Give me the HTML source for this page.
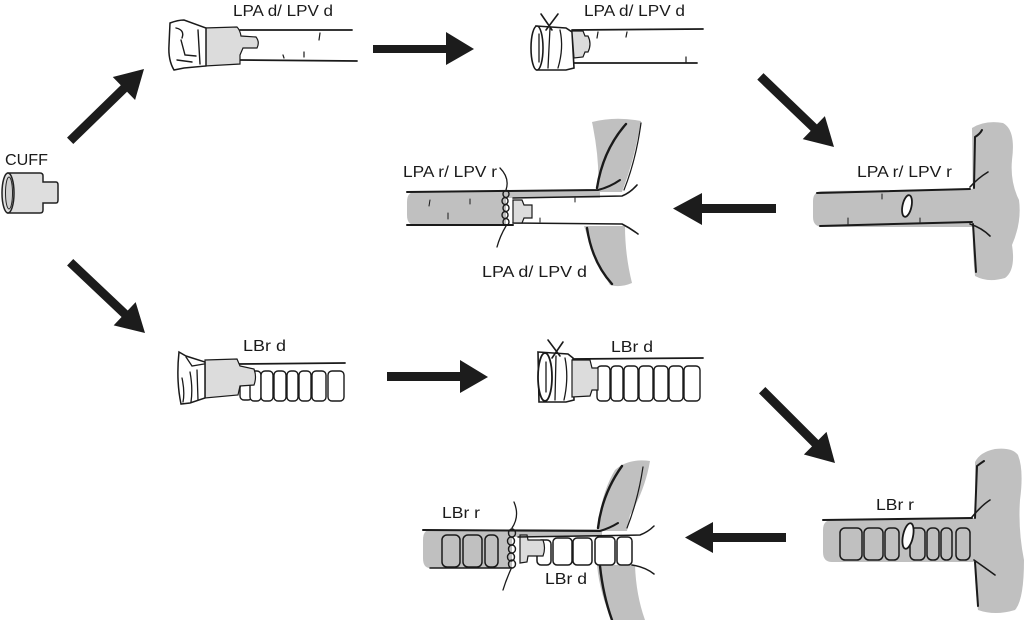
<!DOCTYPE html>
<html>
<head>
<meta charset="utf-8">
<style>
html,body{margin:0;padding:0;background:#fff;}
svg{display:block;}
text{font-family:"Liberation Sans",Arial,sans-serif;font-size:16px;fill:#1a1a1a;}
</style>
</head>
<body>
<svg width="1024" height="620" viewBox="0 0 1024 620" xmlns="http://www.w3.org/2000/svg">
<rect width="1024" height="620" fill="#fff"/>

<!-- ARROWS -->
<g fill="#1c1c1c">
  <polygon transform="translate(144,69) rotate(-44.2)" points="-103,-4.5 -28,-4.5 -28,-16 0,0 -28,16 -28,4.5 -103,4.5"/>
  <polygon points="373,45 446,45 446,32 474,49 446,65 446,53 373,53"/>
  <polygon transform="translate(834,147) rotate(43.8)" points="-102,-4.5 -28,-4.5 -28,-16 0,0 -28,16 -28,4.5 -102,4.5"/>
  <polygon points="776,204 702,204 702,193 673,208.5 702,225 702,213 776,213"/>
  <polygon transform="translate(145,333) rotate(43.4)" points="-103,-4.5 -28,-4.5 -28,-16 0,0 -28,16 -28,4.5 -103,4.5"/>
  <polygon points="387,372 460,372 460,360 488,377 460,393 460,381 387,381"/>
  <polygon transform="translate(835,463) rotate(45)" points="-103,-4.5 -28,-4.5 -28,-16 0,0 -28,16 -28,4.5 -103,4.5"/>
  <polygon points="786,533 713,533 713,522 685,537.5 713,553 713,542 786,542"/>
</g>

<!-- LABELS -->
<text x="5" y="165" textLength="43" lengthAdjust="spacingAndGlyphs">CUFF</text>
<text x="233" y="16" textLength="100" lengthAdjust="spacingAndGlyphs">LPA d/ LPV d</text>
<text x="584" y="16" textLength="101" lengthAdjust="spacingAndGlyphs">LPA d/ LPV d</text>
<text x="403" y="177" textLength="94" lengthAdjust="spacingAndGlyphs">LPA r/ LPV r</text>
<text x="482" y="277" textLength="105" lengthAdjust="spacingAndGlyphs">LPA d/ LPV d</text>
<text x="857" y="177" textLength="95" lengthAdjust="spacingAndGlyphs">LPA r/ LPV r</text>
<text x="243" y="351" textLength="43" lengthAdjust="spacingAndGlyphs">LBr d</text>
<text x="611" y="352" textLength="42" lengthAdjust="spacingAndGlyphs">LBr d</text>
<text x="876" y="510" textLength="38" lengthAdjust="spacingAndGlyphs">LBr r</text>
<text x="442" y="518" textLength="38" lengthAdjust="spacingAndGlyphs">LBr r</text>
<text x="545" y="584" textLength="42" lengthAdjust="spacingAndGlyphs">LBr d</text>

<!-- CUFF -->
<g stroke="#222" stroke-width="1.5" fill="#dedede">
  <path d="M8,173 L40,173 Q43,173 43,176 L43,182 L56,182 Q58,182 58,185 L58,200 Q58,203 56,203 L43,203 L43,210 Q43,213 40,213 L8,213 Z"/>
  <ellipse cx="8" cy="193" rx="6" ry="20"/>
  <ellipse cx="9" cy="193" rx="3.5" ry="16" fill="#cfcfcf" stroke-width="1"/>
</g>

<!-- VESSEL A : LPA d top-left -->
<g stroke="#1a1a1a" stroke-linecap="round" fill="none">
  <path d="M240,30 L352,30" stroke-width="1.8"/>
  <path d="M240,60 L357,61" stroke-width="1.8"/>
  <path d="M320,33 L319,40 M283,55 L284,58 M304,52 L304,57" stroke-width="1.2"/>
  <path d="M204,28 L237,27 Q240,30 241,36 L256,37 Q260,42 257,48 L243,48 L240,55 L240,64 L205,66 Z" fill="#dcdcdc" stroke-width="1.2"/>
  <path d="M170,23 Q178,20 184,20 L206,28 L206,66 L184,68 L174,70 Q168,60 169,45 Z" fill="#fff" stroke-width="1.5"/>
  <path d="M176,28 Q185,30 182,38 M181,40 L185,55 L196,56 M177,60 L192,62 M198,30 L200,64" stroke-width="1.4"/>
</g>

<!-- VESSEL B : LPA d with knot -->
<g stroke="#1a1a1a" stroke-linecap="round" fill="none">
  <path d="M572,30 L703,29" stroke-width="1.8"/>
  <path d="M574,63 L697,63" stroke-width="1.8"/>
  <path d="M598,32 L597,38 M627,32 L626,37 M686,57 L686,62" stroke-width="1.2"/>
  <path d="M536,26 L566,28 L572,32 L574,68 L566,70 L537,70 Z" fill="#fff" stroke-width="1.6"/>
  <ellipse cx="537" cy="48" rx="6" ry="22" fill="#fff" stroke-width="1.6"/>
  <path d="M539,34 L539,62 M550,28 L548,68 M560,30 Q564,48 558,68" stroke-width="1.3"/>
  <path d="M572,31 L583,31 L585,36 L588,36 Q592,44 588,52 L585,52 L583,57 L574,58 Z" fill="#dcdcdc" stroke-width="1.2"/>
  <path d="M541,14 L552,30 M558,14 L546,30" stroke-width="1.6"/>
</g>

<!-- VESSEL C : LPA anastomosis -->
<g stroke="#1a1a1a" stroke-linecap="round" fill="none">
  <path d="M592,122 Q615,116 641,121 Q636,150 628,175 L622,192 L598,192 Q600,160 592,122 Z" fill="#c0c0c0" stroke="none"/>
  <path d="M584,226 L625,226 Q625,255 632,283 Q620,288 610,285 Q596,262 584,226 Z" fill="#c0c0c0" stroke="none"/>
  <path d="M415,192 L506,192 L506,225 L415,225 Q407,225 407,215 L407,202 Q407,192 415,192 Z" fill="#c0c0c0" stroke="none"/>
  <rect x="506" y="191" width="94" height="7" fill="#c0c0c0" stroke="none"/>
  <path d="M597,188 Q603,150 626,124" stroke-width="2.4"/>
  <path d="M641,123 Q636,160 624,190" stroke-width="1.2"/>
  <path d="M587,228 Q592,262 612,284" stroke-width="2.4"/>
  <path d="M407,192 L598,190 Q610,187 620,180" stroke-width="2"/>
  <path d="M407,225 L513,225" stroke-width="2"/>
  <path d="M513,198 L622,196 Q630,193 637,185" stroke-width="1.6"/>
  <path d="M513,223 L622,224 Q630,228 638,234" stroke-width="1.6"/>
  <path d="M430,200 L429,206 M448,213 L448,219 M470,199 L470,204 M540,218 L540,222 M575,198 L575,202" stroke-width="1"/>
  <path d="M513,200 L522,200 L524,205 L532,205 L532,218 L524,218 L522,223 L513,223 Z" fill="#dcdcdc" stroke-width="1.2"/>
  <g stroke-width="1.4">
    <ellipse cx="506" cy="194" rx="3" ry="3.5"/>
    <ellipse cx="505" cy="201" rx="3" ry="3.5"/>
    <ellipse cx="506" cy="208" rx="3" ry="3.5"/>
    <ellipse cx="505" cy="215" rx="3" ry="3.5"/>
    <ellipse cx="506" cy="222" rx="3" ry="3.5"/>
  </g>
  <path d="M506,190 Q510,178 500,168" stroke-width="1.3"/>
  <path d="M506,226 Q500,236 497,247" stroke-width="1.3"/>
</g>

<!-- VESSEL D : LPA r recipient -->
<g stroke="#1a1a1a" stroke-linecap="round" fill="none">
  <path d="M972,128 Q985,120 1003,123 Q1016,130 1012,160 Q1010,182 1019,200 Q1022,222 1012,245 Q1016,270 1005,278 Q988,283 975,276 Q972,250 973,220 Z" fill="#c0c0c0" stroke="none"/>
  <path d="M823,191 L975,189 L975,227 L823,227 Q813,227 813,217 L813,201 Q813,191 823,191 Z" fill="#c0c0c0" stroke="none"/>
  <path d="M817,193 L970,189" stroke-width="2"/>
  <path d="M820,226 L972,222" stroke-width="2"/>
  <path d="M975,137 L974,188 M975,137 Q980,134 982,130" stroke-width="2"/>
  <path d="M973,224 L976,272" stroke-width="2"/>
  <path d="M970,187 Q978,178 988,172 M970,224 Q982,228 990,236" stroke-width="1.6"/>
  <path d="M882,194 L882,199 M848,218 L848,224 M920,218 L920,222" stroke-width="1"/>
  <ellipse cx="907" cy="206" rx="4.5" ry="11" transform="rotate(12 907 206)" fill="#fff" stroke-width="1.8"/>
</g>

<!-- VESSEL E : LBr d left -->
<g stroke="#1a1a1a" stroke-linecap="round" fill="none">
  <path d="M238,364 L345,363" stroke-width="1.8"/>
  <g fill="#fff" stroke-width="1.4">
    <rect x="240" y="384" width="12" height="16" rx="4"/>
    <rect x="250" y="371" width="11" height="30" rx="4"/>
    <rect x="261" y="371" width="12" height="30" rx="4"/>
    <rect x="274" y="371" width="12" height="30" rx="4"/>
    <rect x="287" y="371" width="11" height="30" rx="4"/>
    <rect x="299" y="371" width="12" height="30" rx="4"/>
    <rect x="312" y="371" width="14" height="30" rx="4"/>
    <rect x="328" y="371" width="16" height="30" rx="4"/>
  </g>
  <path d="M205,360 L237,359 L240,366 L254,369 Q257,377 254,385 L240,386 L238,395 L205,398 Z" fill="#dcdcdc" stroke-width="1.2"/>
  <path d="M179,352 L186,356 L205,362 L205,398 L190,403 L181,404 Q176,380 179,352 Z" fill="#fff" stroke-width="1.5"/>
  <path d="M186,357 L192,366 L204,364 M182,378 Q185,392 183,402 M190,372 Q193,388 191,402 M197,370 L198,400" stroke-width="1.3"/>
</g>

<!-- VESSEL F : LBr d with knot -->
<g stroke="#1a1a1a" stroke-linecap="round" fill="none">
  <path d="M572,359 L703,358" stroke-width="1.8"/>
  <g fill="#fff" stroke-width="1.4">
    <rect x="597" y="366" width="13" height="35" rx="4"/>
    <rect x="611" y="366" width="12" height="35" rx="4"/>
    <rect x="624" y="366" width="14" height="35" rx="4"/>
    <rect x="639" y="366" width="14" height="35" rx="4"/>
    <rect x="654" y="366" width="14" height="35" rx="4"/>
    <rect x="669" y="366" width="14" height="35" rx="4"/>
    <rect x="684" y="366" width="16" height="35" rx="4"/>
  </g>
  <path d="M538,352 L568,354 L573,358 L574,400 L566,402 L539,402 Z" fill="#fff" stroke-width="1.6"/>
  <ellipse cx="545" cy="377" rx="7" ry="24" fill="#fff" stroke-width="1.8"/>
  <path d="M546,362 L546,392 M556,356 L555,400 M565,358 Q569,378 564,400" stroke-width="1.3"/>
  <path d="M572,360 L590,360 L592,368 L598,368 L598,390 L592,390 L590,396 L572,397 Z" fill="#dcdcdc" stroke-width="1.2"/>
  <path d="M548,340 L560,356 M563,342 L552,358" stroke-width="1.6"/>
</g>

<!-- VESSEL G : LBr r recipient -->
<g stroke="#1a1a1a" stroke-linecap="round" fill="none">
  <path d="M975,462 Q980,452 995,449 Q1012,447 1018,455 Q1024,470 1020,500 Q1018,530 1024,560 Q1024,600 1015,610 Q995,616 978,610 Q974,580 975,560 Z" fill="#c0c0c0" stroke="none"/>
  <path d="M832,520 L976,518 L976,562 L832,562 Q823,562 823,552 L823,530 Q823,520 832,520 Z" fill="#c0c0c0" stroke="none"/>
  <g fill="#c0c0c0" stroke-width="1.5">
    <rect x="840" y="528" width="22" height="32" rx="5"/>
    <rect x="864" y="528" width="19" height="32" rx="5"/>
    <rect x="885" y="528" width="14" height="32" rx="5"/>
    <rect x="910" y="528" width="15" height="32" rx="5"/>
    <rect x="927" y="528" width="12" height="32" rx="5"/>
    <rect x="941" y="528" width="11" height="32" rx="5"/>
    <rect x="956" y="528" width="14" height="32" rx="5"/>
  </g>
  <path d="M823,520 L972,518" stroke-width="2"/>
  <path d="M977,466 L975,518 M977,466 Q981,463 984,461" stroke-width="2"/>
  <path d="M975,562 L978,606" stroke-width="2"/>
  <path d="M972,517 Q982,505 990,500 M974,560 Q984,567 995,575" stroke-width="1.6"/>
  <ellipse cx="908" cy="536" rx="5" ry="13" transform="rotate(12 908 536)" fill="#fff" stroke-width="1.8"/>
</g>

<!-- VESSEL H : LBr anastomosis -->
<g stroke="#1a1a1a" stroke-linecap="round" fill="none">
  <path d="M598,531 Q600,495 615,470 Q628,458 650,461 Q645,490 630,515 L627,531 Z" fill="#c0c0c0" stroke="none"/>
  <path d="M597,565 L635,565 Q636,595 645,620 L612,620 Q600,595 597,565 Z" fill="#c0c0c0" stroke="none"/>
  <path d="M430,530 L512,530 L512,568 L430,568 Q423,568 423,558 L423,540 Q423,530 430,530 Z" fill="#c0c0c0" stroke="none"/>
  <rect x="512" y="529" width="90" height="8" fill="#c0c0c0" stroke="none"/>
  <g fill="#c0c0c0" stroke-width="1.5">
    <rect x="442" y="535" width="18" height="32" rx="5"/>
    <rect x="463" y="535" width="19" height="32" rx="5"/>
    <rect x="485" y="535" width="13" height="32" rx="5"/>
  </g>
  <g fill="#fff" stroke-width="1.5">
    <rect x="537" y="540" width="14" height="25" rx="4"/>
    <rect x="553" y="538" width="19" height="27" rx="4"/>
    <rect x="573" y="538" width="19" height="27" rx="4"/>
    <rect x="595" y="537" width="20" height="28" rx="4"/>
    <rect x="617" y="537" width="15" height="28" rx="4"/>
  </g>
  <path d="M520,535 L527,535 L528,540 L543,540 Q546,548 543,556 L528,556 L527,562 L520,563 Z" fill="#dcdcdc" stroke-width="1.2"/>
  <path d="M598,528 Q602,494 622,466" stroke-width="2.4"/>
  <path d="M643,467 Q638,500 627,528" stroke-width="1.2"/>
  <path d="M600,566 Q603,595 612,620" stroke-width="2.4"/>
  <path d="M423,530 L600,531 Q610,528 618,523" stroke-width="2"/>
  <path d="M518,537 L640,535 Q648,532 654,526" stroke-width="1.5"/>
  <path d="M430,568 L512,568" stroke-width="1.5"/>
  <path d="M632,565 Q645,567 654,574" stroke-width="1.5"/>
  <g stroke-width="1.4">
    <ellipse cx="512" cy="533" rx="3.5" ry="4"/>
    <ellipse cx="511" cy="541" rx="3.5" ry="4"/>
    <ellipse cx="512" cy="549" rx="3.5" ry="4"/>
    <ellipse cx="511" cy="557" rx="3.5" ry="4"/>
    <ellipse cx="512" cy="564" rx="3.5" ry="4"/>
  </g>
  <path d="M512,528 Q520,516 514,502" stroke-width="1.3"/>
  <path d="M511,569 Q506,580 503,590" stroke-width="1.3"/>
</g>
</svg>
</body>
</html>
